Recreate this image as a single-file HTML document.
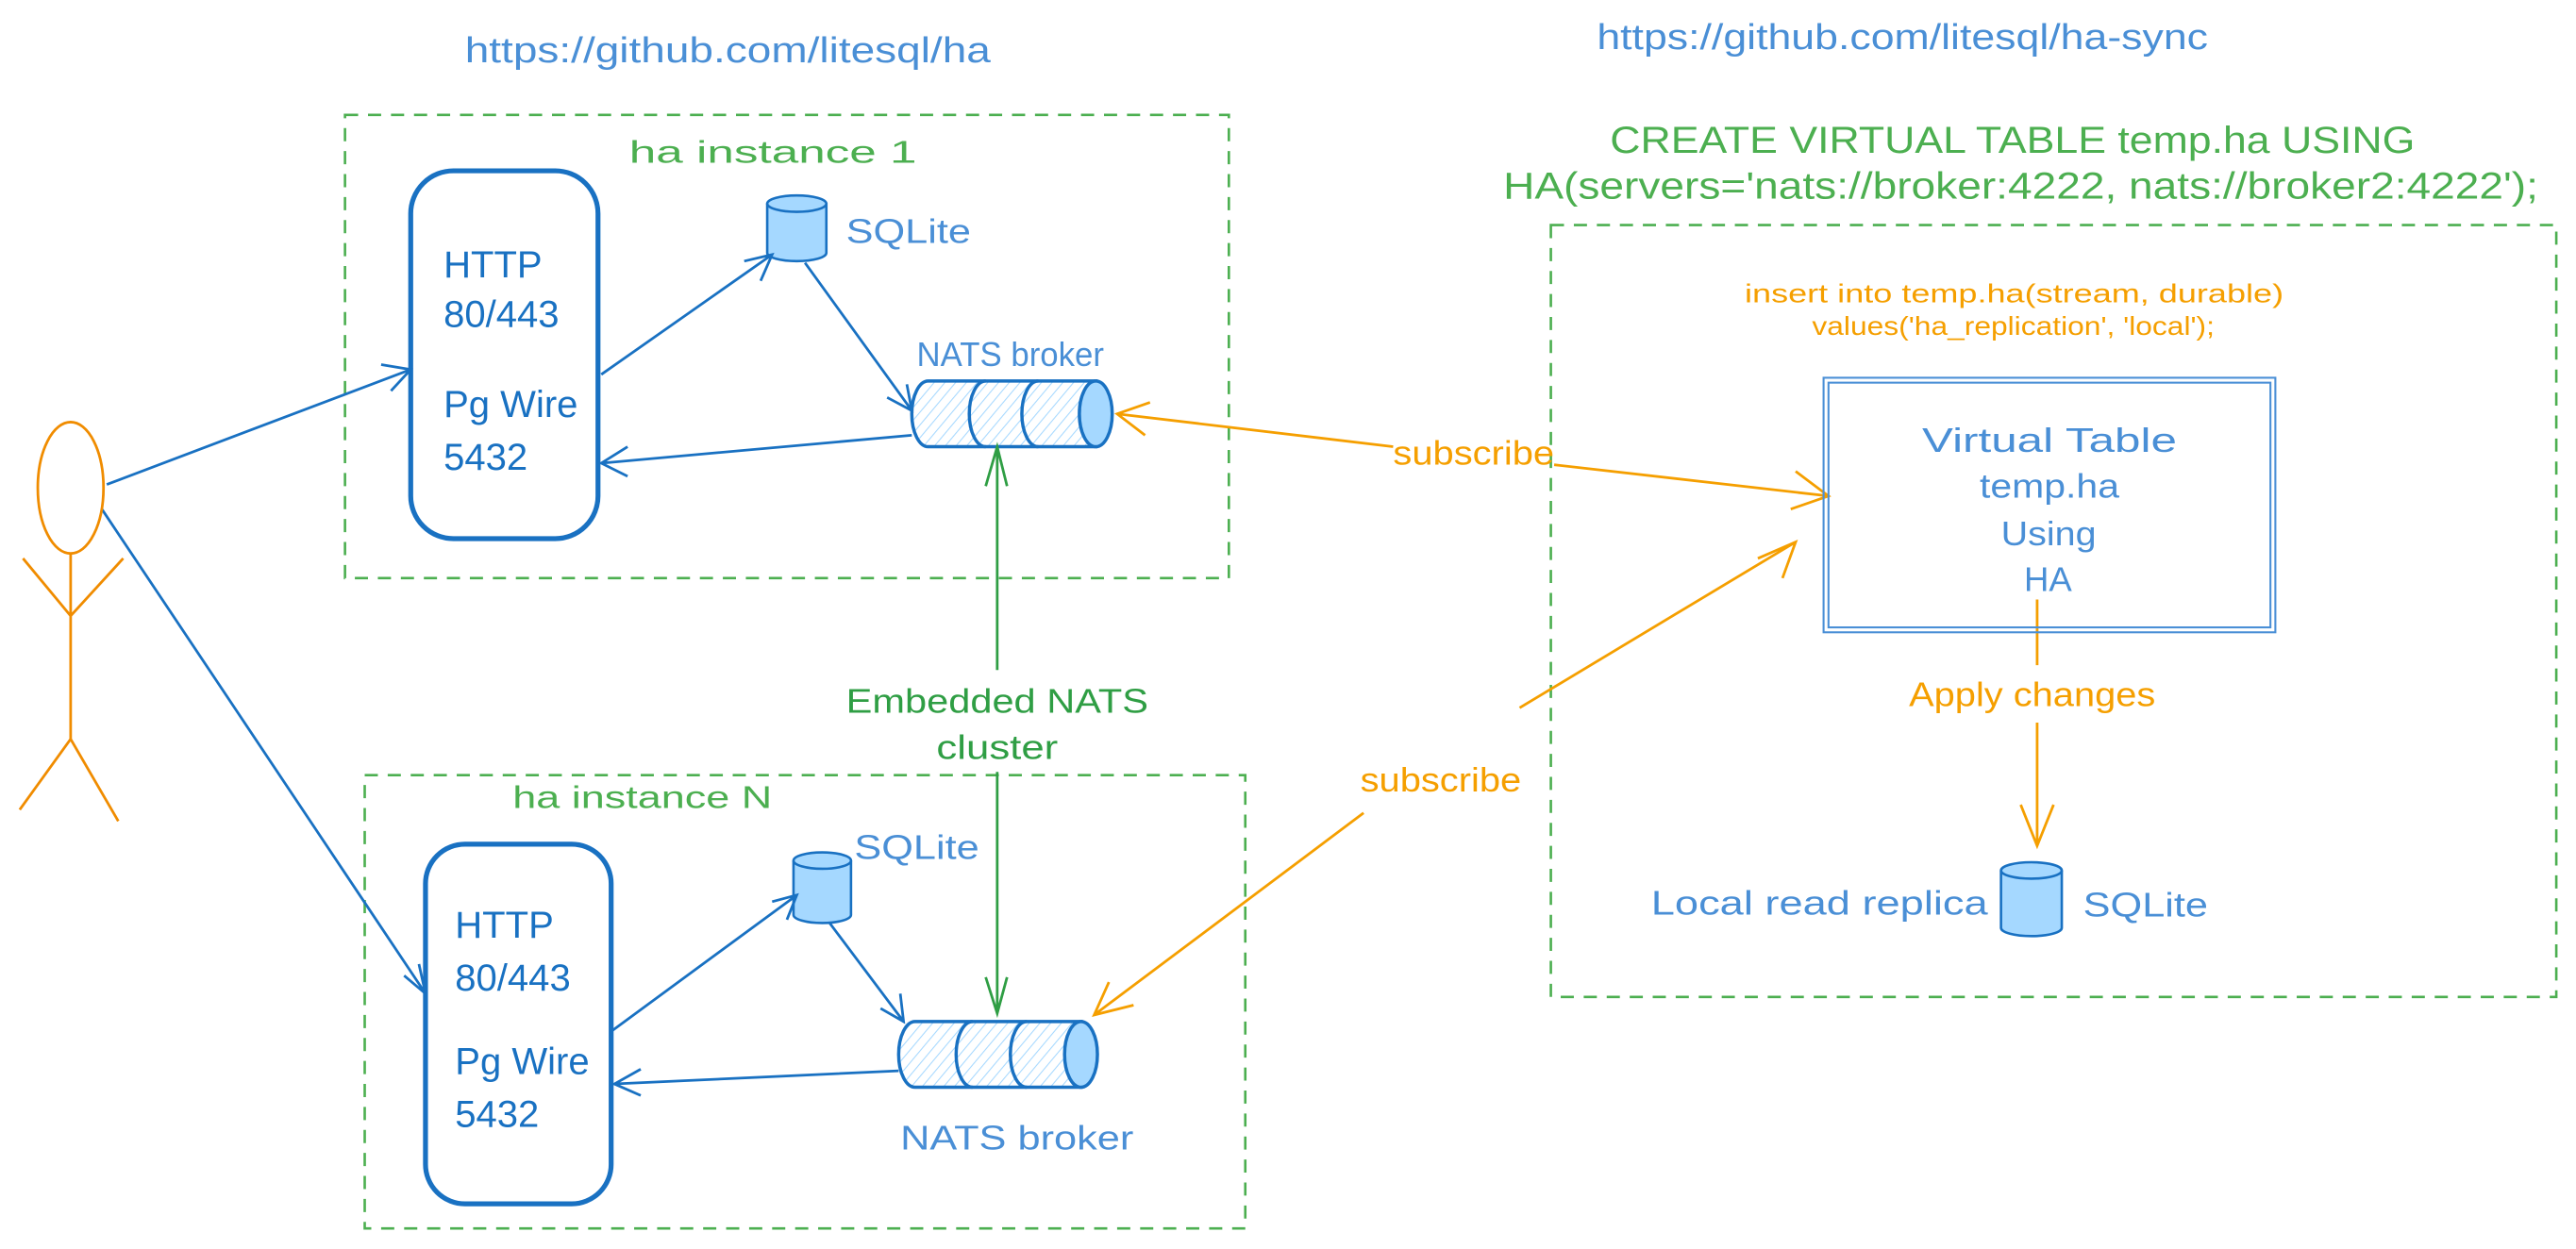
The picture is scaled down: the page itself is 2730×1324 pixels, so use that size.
<!DOCTYPE html>
<html><head><meta charset="utf-8"><style>
html,body{margin:0;padding:0;background:#fff;}
svg{display:block;}
text{font-family:"Liberation Sans",sans-serif;}
</style></head><body>
<svg width="2730" height="1324" viewBox="0 0 1568 760.5" preserveAspectRatio="none" xmlns="http://www.w3.org/2000/svg">
<defs>
<pattern id="h" width="5" height="5" patternUnits="userSpaceOnUse" patternTransform="rotate(40)">
<line x1="0" y1="0" x2="0" y2="5" stroke="#a5d8ff" stroke-width="1.2"/>
</pattern>
</defs>
<rect width="1568" height="760.5" fill="#fff"/>
<!-- URLs -->
<text x="283" y="38" font-size="22" fill="#4a8fd6" textLength="320" lengthAdjust="spacingAndGlyphs">https://github.com/litesql/ha</text>
<text x="972" y="30" font-size="22" fill="#4a8fd6" textLength="372" lengthAdjust="spacingAndGlyphs">https://github.com/litesql/ha-sync</text>
<text x="980" y="93" font-size="23" fill="#4caf50" textLength="490" lengthAdjust="spacingAndGlyphs">CREATE VIRTUAL TABLE temp.ha USING</text>
<text x="915" y="121" font-size="23" fill="#4caf50" textLength="630" lengthAdjust="spacingAndGlyphs">HA(servers='nats://broker:4222, nats://broker2:4222');</text>

<!-- dashed boxes -->
<g fill="none" stroke="#4caf50" stroke-width="1.5" stroke-dasharray="8 6">
<rect x="210" y="70" width="538" height="282"/>
<rect x="222" y="472" width="536" height="276"/>
<rect x="944" y="137" width="612" height="470"/>
</g>
<text x="383" y="99" font-size="19" fill="#4caf50" textLength="175" lengthAdjust="spacingAndGlyphs">ha instance 1</text>
<text x="312" y="492" font-size="19" fill="#4caf50" textLength="158" lengthAdjust="spacingAndGlyphs">ha instance N</text>

<!-- HTTP boxes -->
<g fill="none" stroke="#1971c2" stroke-width="3">
<rect x="250" y="104" width="114" height="224" rx="26"/>
<rect x="259" y="514" width="113" height="219" rx="24"/>
</g>
<g font-size="23" fill="#1971c2">
<text x="270" y="169">HTTP</text><text x="270" y="199">80/443</text>
<text x="270" y="254">Pg Wire</text><text x="270" y="286">5432</text>
<text x="277" y="571">HTTP</text><text x="277" y="603">80/443</text>
<text x="277" y="654">Pg Wire</text><text x="277" y="686">5432</text>
</g>

<!-- SQLite cylinders -->
<g stroke="#1971c2" stroke-width="1.5" fill="#a5d8ff">
<path d="M467,124 v30 a18,5 0 0 0 36,0 v-30"/><ellipse cx="485" cy="124" rx="18" ry="5"/>
<path d="M483,524 v33 a17.5,5 0 0 0 35,0 v-33"/><ellipse cx="500.5" cy="524" rx="17.5" ry="5"/>
<path d="M1218,530 v35 a18.5,5 0 0 0 37,0 v-35"/><ellipse cx="1236.5" cy="530" rx="18.5" ry="5"/>
</g>
<g font-size="21" fill="#4a8fd6">
<text x="515" y="148" textLength="76" lengthAdjust="spacingAndGlyphs">SQLite</text>
<text x="520" y="523" textLength="76" lengthAdjust="spacingAndGlyphs">SQLite</text>
<text x="1268" y="558" textLength="76" lengthAdjust="spacingAndGlyphs">SQLite</text>
<text x="1005" y="557" textLength="205" lengthAdjust="spacingAndGlyphs">Local read replica</text>
<text x="558" y="223" textLength="114" lengthAdjust="spacingAndGlyphs">NATS broker</text>
<text x="548" y="700" textLength="142" lengthAdjust="spacingAndGlyphs">NATS broker</text>
</g>

<!-- NATS cylinders -->
<g stroke="#1971c2" stroke-width="2">
<path d="M565,232 H667 V272 H565 a10,20 0 0 1 0,-40z" fill="url(#h)"/>
<path d="M600,232 a10,20 0 0 0 0,40 M632,232 a10,20 0 0 0 0,40" fill="none"/>
<ellipse cx="667" cy="252" rx="10" ry="20" fill="#a5d8ff"/>
<path d="M557,622 H658 V662 H557 a10,20 0 0 1 0,-40z" fill="url(#h)"/>
<path d="M592,622 a10,20 0 0 0 0,40 M625,622 a10,20 0 0 0 0,40" fill="none"/>
<ellipse cx="658" cy="642" rx="10" ry="20" fill="#a5d8ff"/>
</g>

<!-- blue arrows -->
<g stroke="#1971c2" stroke-width="1.6" fill="none">
<path d="M65,295 L250,225 M232,222 L250,225 L238,238"/>
<path d="M366,228 L470,155 M453,159 L470,155 L463,171"/>
<path d="M490,160 L555,250 M540,242 L555,250 L552,234"/>
<path d="M555,265 L366,282 M382,272 L366,282 L382,290"/>
<path d="M62,310 L259,605 M246,594 L259,605 L255,587"/>
<path d="M372,628 L485,545 M470,549 L485,545 L479,560"/>
<path d="M505,562 L550,622 M536,614 L550,622 L548,605"/>
<path d="M547,652 L374,660 M390,651 L374,660 L390,667"/>
</g>

<!-- person -->
<g stroke="#f08c00" stroke-width="1.6" fill="none">
<ellipse cx="43" cy="297" rx="20" ry="40"/>
<path d="M43,337 V450 M14,340 L43,375 L75,340 M43,450 L12,493 M43,450 L72,500"/>
</g>

<!-- green cluster line -->
<g stroke="#2f9e44" stroke-width="1.6" fill="none">
<path d="M607,272 V408 M600,296 L607,272 L613,296"/>
<path d="M607,470 V617 M600,595 L607,617 L613,595"/>
</g>
<text x="515" y="434" font-size="21" fill="#2f9e44" textLength="184" lengthAdjust="spacingAndGlyphs">Embedded NATS</text>
<text x="570" y="462" font-size="21" fill="#2f9e44" textLength="74" lengthAdjust="spacingAndGlyphs">cluster</text>

<!-- orange subscribe -->
<g stroke="#f59f00" stroke-width="1.6" fill="none">
<path d="M680,252 L848,272 M946,283 L1113,302 M1093,287 L1113,302 L1090,310 M700,245 L680,252 L697,265"/>
<path d="M666,618 L830,495 M925,431 L1093,330 M1070,340 L1093,330 L1085,352 M675,598 L666,618 L690,612"/>
<path d="M1240,365 V405 M1240,440 V515 M1230,490 L1240,515 L1250,490"/>
</g>
<g font-size="21" fill="#f59f00">
<text x="848" y="283" textLength="98" lengthAdjust="spacingAndGlyphs">subscribe</text>
<text x="828" y="482" textLength="98" lengthAdjust="spacingAndGlyphs">subscribe</text>
<text x="1162" y="430" textLength="150" lengthAdjust="spacingAndGlyphs">Apply changes</text>
</g>
<text x="1062" y="184" font-size="16" fill="#f59f00" textLength="328" lengthAdjust="spacingAndGlyphs">insert into temp.ha(stream, durable)</text>
<text x="1103" y="204" font-size="16" fill="#f59f00" textLength="245" lengthAdjust="spacingAndGlyphs">values('ha_replication', 'local');</text>

<!-- Virtual table -->
<g stroke="#4a8fd6" stroke-width="1.2" fill="none">
<rect x="1110" y="230" width="275" height="155"/>
<rect x="1113" y="233" width="269" height="149"/>
</g>
<g font-size="21" fill="#4a8fd6">
<text x="1170" y="275" textLength="155" lengthAdjust="spacingAndGlyphs">Virtual Table</text>
<text x="1205" y="303" textLength="85" lengthAdjust="spacingAndGlyphs">temp.ha</text>
<text x="1218" y="332" textLength="58" lengthAdjust="spacingAndGlyphs">Using</text>
<text x="1232" y="360">HA</text>
</g>
</svg>
</body></html>
